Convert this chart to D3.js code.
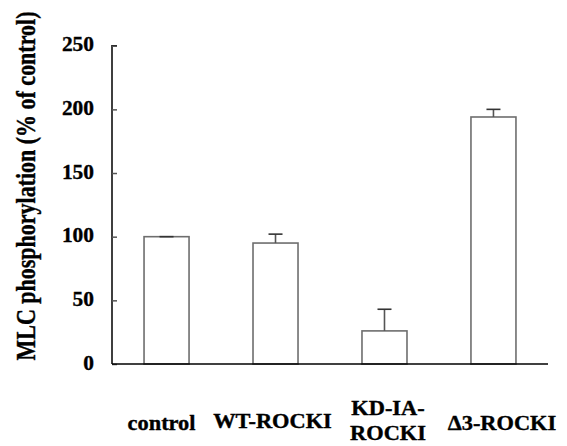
<!DOCTYPE html>
<html><head><meta charset="utf-8">
<script src="https://cdn.jsdelivr.net/npm/d3@7"></script>
<style>body{margin:0;background:#fff}svg{display:block}text{font-family:"Liberation Serif","Times New Roman",serif;font-weight:bold;fill:#000;stroke:#000;stroke-width:0.35px}</style>
</head><body><svg id="c" width="567" height="446"></svg>
<script>
const categories = ["control", "WT-ROCKI", "KD-IA-\nROCKI", "\u03943-ROCKI"];
const values = [100, 95, 26, 194];
const errors = [0, 7, 17, 6];
const yTicks = [0, 50, 100, 150, 200, 250];
const yTitle = "MLC phosphorylation (% of control)";

// layout (not data)
const labelDx = [-5, -3, 3.5, 8.5];
const labelBaseline = [430, 428.3, 415, 430];

const svg = d3.select("#c");
const m = {left: 112, right: 548, top: 45.7, bottom: 364};
const x = d3.scaleBand().domain(categories).range([m.left, m.right]).paddingInner(0.587).paddingOuter(0.294);
const y = d3.scaleLinear().domain([0, 250]).range([m.bottom, m.top]);

// bars
svg.selectAll("rect.bar").data(categories).join("rect").attr("class", "bar")
  .attr("x", d => x(d)).attr("width", x.bandwidth())
  .attr("y", (d, i) => y(values[i])).attr("height", (d, i) => y(0) - y(values[i]))
  .attr("fill", "#fff").attr("stroke", "#6e6e6e").attr("stroke-width", 1.6);

// error bars (upper only)
const eb = svg.selectAll("g.err").data(categories).join("g").attr("class", "err");
const cx = d => x(d) + x.bandwidth() / 2;
eb.append("line").attr("x1", cx).attr("x2", cx)
  .attr("y1", (d, i) => y(values[i])).attr("y2", (d, i) => y(values[i] + errors[i]))
  .attr("stroke", "#555").attr("stroke-width", 1.6);
eb.append("line").attr("x1", d => cx(d) - 7).attr("x2", d => cx(d) + 7)
  .attr("y1", (d, i) => y(values[i] + errors[i])).attr("y2", (d, i) => y(values[i] + errors[i]))
  .attr("stroke", "#333").attr("stroke-width", 1.6);

// y axis
const ya = svg.append("g").attr("transform", `translate(${m.left},0)`)
  .call(d3.axisRight(y).tickValues(yTicks).tickSize(5).tickFormat(d3.format("d")));
ya.attr("font-family", null).attr("font-size", null);
ya.select(".domain").attr("stroke", "#000").attr("stroke-width", 1.5).attr("d", `M5,${m.top}H0V${m.bottom}`);
ya.selectAll(".tick line").attr("stroke", "#555").attr("stroke-width", 1.5);
ya.selectAll(".tick text").attr("text-anchor", "end").attr("dy", "5px")
  .style("font-size", "20px")
  .attr("x", null)
  .attr("transform", "translate(-18,0) scale(1.07,1)");

// x axis line
svg.append("line").attr("x1", m.left).attr("x2", m.right).attr("y1", y(0)).attr("y2", y(0))
  .attr("stroke", "#000").attr("stroke-width", 1.5);

// category labels
categories.forEach((c, i) => {
  const lines = c.split("\n");
  const t = svg.append("text").attr("transform", `translate(${cx(c) + labelDx[i]},${labelBaseline[i]}) scale(1.12,1)`)
    .attr("text-anchor", "middle").style("font-size", "20px");
  lines.forEach((l, k) => t.append("tspan").attr("x", 0).attr("dy", k === 0 ? 0 : 25).text(l));
});

// y title
svg.append("text").attr("transform", "translate(35,186) rotate(-90) scale(1,1.2)")
  .attr("text-anchor", "middle").style("font-size", "22px").text(yTitle);
</script></body></html>
